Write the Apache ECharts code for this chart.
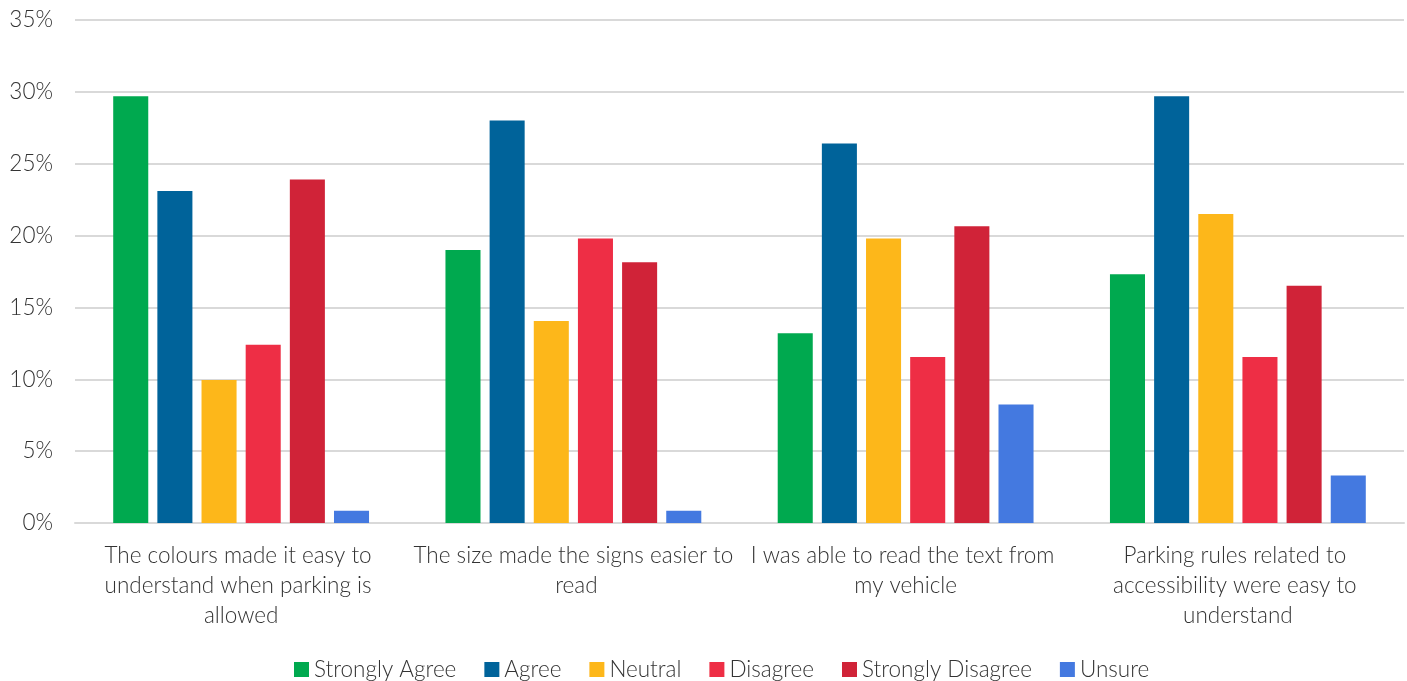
<!DOCTYPE html>
<html>
<head>
<meta charset="utf-8">
<script src="https://cdn.jsdelivr.net/npm/echarts@6/dist/echarts.min.js"></script>
<style>
  html, body { margin: 0; padding: 0; background: #fff; }
  #chart { width: 1407px; height: 681px; }
</style>
</head>
<body>
<div id="chart"></div>
<script>
// Categories and values (percent)
const categories = [
    'The colours made it easy to understand when parking is allowed',
    'The size made the signs easier to read',
    'I was able to read the text from my vehicle',
    'Parking rules related to accessibility were easy to understand'
];
const seriesNames = ['Strongly Agree', 'Agree', 'Neutral', 'Disagree', 'Strongly Disagree', 'Unsure'];
const stronglyAgree = [29.7, 19.0, 13.2, 17.3];
const agree = [23.1, 28.0, 26.4, 29.7];
const neutral = [9.95, 14.05, 19.8, 21.5];
const disagree = [12.4, 19.8, 11.55, 11.55];
const stronglyDisagree = [23.9, 18.15, 20.65, 16.5];
const unsure = [0.85, 0.85, 8.25, 3.3];
const colors = ['#00a94f', '#00639a', '#fdb71a', '#ee2e45', '#d02338', '#4479e0'];

const fontFamily = 'Lato';
const textColor = '#333333';

const chart = echarts.init(document.getElementById('chart'));
const values = [stronglyAgree, agree, neutral, disagree, stronglyDisagree, unsure];

chart.setOption({
    animation: false,
    color: colors,
    grid: { left: 75, right: 3, top: 20, bottom: 158 },
    legend: {
        bottom: -5,
        left: 289,
        itemWidth: 15,
        itemHeight: 15,
        itemGap: 28,
        icon: 'rect',
        textStyle: { fontFamily: fontFamily, fontWeight: 300, fontSize: 22.5, color: textColor }
    },
    xAxis: {
        type: 'category',
        data: categories,
        axisLine: { lineStyle: { color: '#d9d9d9', width: 2 } },
        axisTick: { show: false },
        axisLabel: {
            interval: 0,
            margin: 18,
            width: 322,
            overflow: 'break',
            lineHeight: 30,
            fontFamily: fontFamily,
            fontWeight: 300,
            fontSize: 22.5,
            color: textColor
        }
    },
    yAxis: {
        type: 'value',
        min: 0,
        max: 35,
        interval: 5,
        axisLine: { show: false },
        axisTick: { show: false },
        splitLine: { lineStyle: { color: '#d9d9d9', width: 2 } },
        axisLabel: {
            formatter: '{value}%',
            margin: 22,
            fontFamily: fontFamily,
            fontWeight: 300,
            fontSize: 22.5,
            color: textColor
        }
    },
    series: seriesNames.map((name, i) => ({
        name: name,
        type: 'bar',
        data: values[i],
        barGap: '26%',
        barCategoryGap: '23%'
    }))
});
</script>
</body>
</html>
